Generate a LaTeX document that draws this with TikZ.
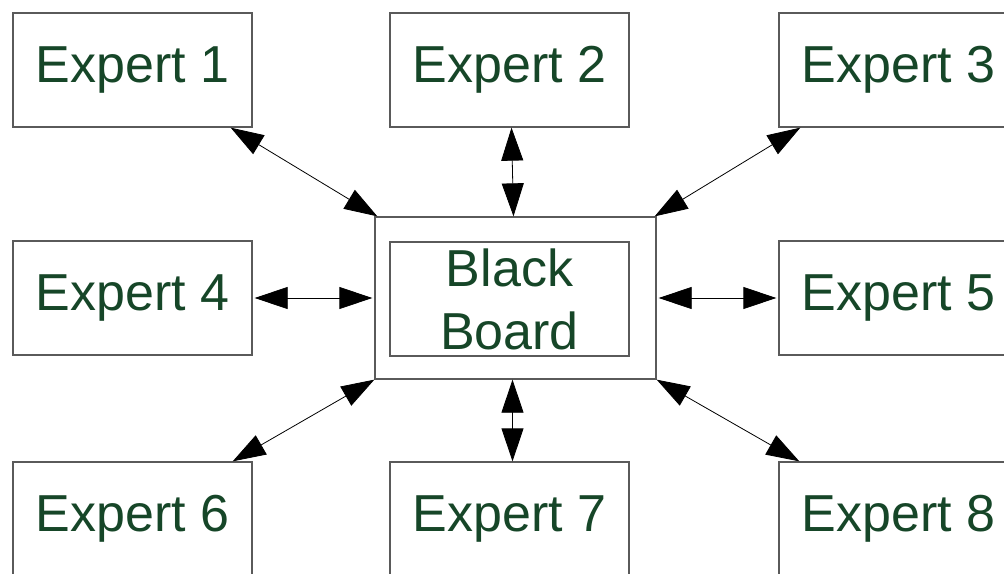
\documentclass[tikz,border=0pt]{standalone}
\usepackage{fontspec}
\setmainfont{Liberation Sans}
\usetikzlibrary{arrows.meta,calc}
\definecolor{boxline}{RGB}{90,90,90}
\definecolor{labelgreen}{RGB}{22,70,40}
\tikzset{
  expert/.style={draw=boxline, line width=1.3pt, fill=white,
    minimum width=239pt, minimum height=114pt, inner sep=0pt,
    text=labelgreen, font=\fontsize{52}{63}\selectfont},
  board/.style={draw=boxline, line width=1.3pt,
    minimum width=281pt, minimum height=162pt, inner sep=0pt},
  link/.style={line width=0.8pt,
    {Triangle[length=33pt,width=22pt]}-{Triangle[length=33pt,width=22pt]}}
}
\begin{document}
\begin{tikzpicture}[x=1pt,y=-1pt]
  \useasboundingbox (0,0) rectangle (1004,573);
  \clip (0,0) rectangle (1004,573);
  % the experts, in three rows
  \node[expert] (e1) at (132.5,70) {Expert 1};
  \node[expert] (e2) at (509.5,70) {Expert 2};
  \node[expert] (e3) at (898.5,70) {Expert 3};
  \node[expert] (e4) at (132.5,298) {Expert 4};
  \node[expert] (e5) at (898.5,298) {Expert 5};
  \node[expert] (e6) at (132.5,519) {Expert 6};
  \node[expert] (e7) at (509.5,519) {Expert 7};
  \node[expert] (e8) at (898.5,519) {Expert 8};
  % the shared black board: an outer frame round an inner box
  \node[board] (bb) at (515.5,298) {};
  \node[expert, align=center] (bbin) at (509.5,299) {Black\\Board};
  % two-way links between each expert and the board
  \draw[link] ([xshift=-22pt]e1.south east) -- ([xshift=3pt]bb.north west);
  \draw[link] ([xshift=2pt]e2.south) -- ([xshift=-2pt]bb.north);
  \draw[link] ([xshift=22pt]e3.south west) -- ([xshift=-2pt]bb.north east);
  \draw[link] ([xshift=2pt]e4.east) -- ([xshift=-2pt]bb.west);
  \draw[link] ([xshift=2pt]bb.east) -- ([xshift=-2pt]e5.west);
  \draw[link] (bb.south west) -- ([xshift=-20pt]e6.north east);
  \draw[link] ([xshift=-3pt]bb.south) -- ([xshift=3pt]e7.north);
  \draw[link] (bb.south east) -- ([xshift=21pt]e8.north west);
\end{tikzpicture}
\end{document}
